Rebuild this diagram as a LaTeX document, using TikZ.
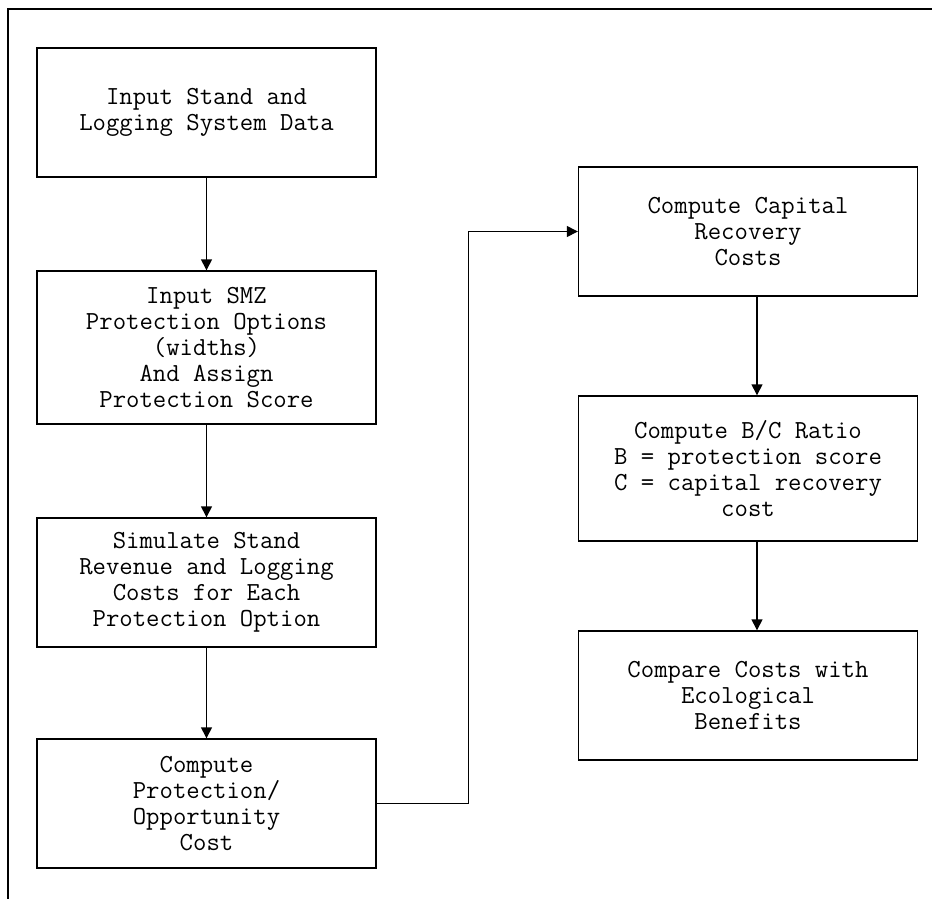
\documentclass[tikz,border=0pt]{standalone}
\usepackage{fontspec}
\usetikzlibrary{calc, arrows.meta}

\begin{document}
\begin{tikzpicture}[x=1pt,y=-1pt,>={Triangle[width=11pt,length=11pt]},line width=1.4pt,
    stepbox/.style={draw, rectangle, align=center, inner sep=0pt,
      minimum width=339pt, font=\ttfamily\fontsize{26}{26}\selectfont}]
          \useasboundingbox (0,0) rectangle (932,899);
          \draw [line width=1.8pt] (8,899) -- (8,9) -- (932,9);

          \node [stepbox, minimum height=129pt] (B1) at (206.5, 112.5) {Input Stand and\\Logging System Data};
          \node [stepbox, minimum height=153pt] (B2) at (206.5, 347.5) {Input SMZ\\Protection Options\\(widths)\\And Assign\\Protection Score};
          \node [stepbox, minimum height=129pt] (B3) at (206.5, 582.5) {Simulate Stand\\Revenue and Logging\\Costs for Each\\Protection Option};
          \node [stepbox, minimum height=129pt] (B4) at (206.5, 803.5) {Compute\\Protection/\\Opportunity\\Cost};
          \node [stepbox, minimum height=129pt] (C1) at (748, 231.5) {Compute Capital\\Recovery\\Costs};
          \node [stepbox, minimum height=145pt] (C2) at (748, 468.5) {Compute B/C Ratio\\B = protection score\\C = capital recovery\\cost};
          \node [stepbox, minimum height=129pt] (C3) at (748, 695.5) {Compare Costs with\\Ecological\\Benefits};

          \draw [->] (B1) -- (B2);
          \draw [->] (B2) -- (B3);
          \draw [->] (B3) -- (B4);
          \draw [->] (B4.east) -- ++(92,0) |- (C1.west);
          \draw [->] ([xshift=9pt]C1.south) -- ([xshift=9pt]C2.north);
          \draw [->] ([xshift=9pt]C2.south) -- ([xshift=9pt]C3.north);

      \end{tikzpicture}
\end{document}
